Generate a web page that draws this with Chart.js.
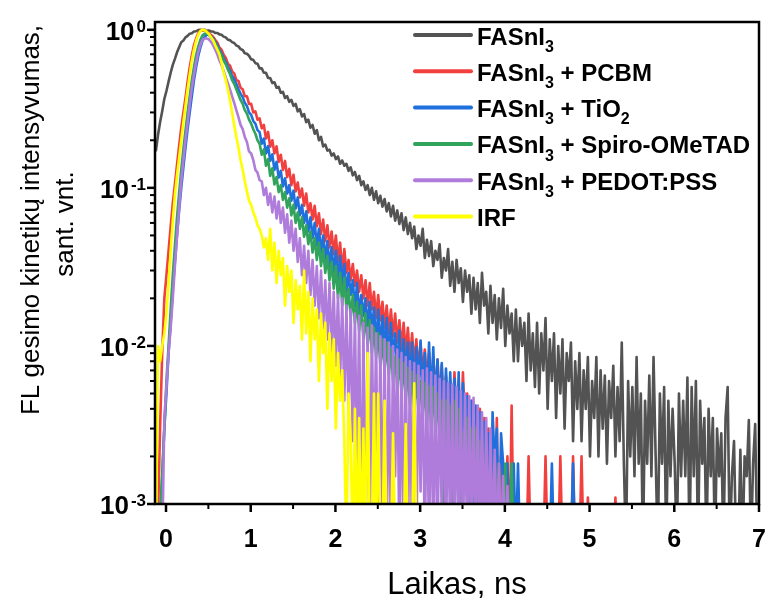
<!DOCTYPE html>
<html>
<head>
<meta charset="utf-8">
<script src="https://cdn.jsdelivr.net/npm/chart.js@4.4.0/dist/chart.umd.min.js"></script>
<style>
  body { margin: 0; background: #fff; }
  #wrap { width: 766px; height: 603px; position: relative; }
</style>
</head>
<body>
<div id="wrap"><canvas id="myChart"></canvas></div>
<script>
// time channels: t = T0 + i * DT (ns)
const T0 = -0.12;
const DT = 0.025;

const seriesNames = ['FASnI_3', 'FASnI_3 + PCBM', 'FASnI_3 + TiO_2', 'FASnI_3 + Spiro-OMeTAD', 'FASnI_3 + PEDOT:PSS', 'IRF'];
const seriesColors = ['#535353', '#f2403f', '#1f6fdd', '#31a35c', '#b07cdb', '#ffff00'];

const xTicks = [0, 1, 2, 3, 4, 5, 6, 7];
const yExponents = [0, -1, -2, -3];

// normalised counts; 0.0005 = empty channel (below the 1e-3 floor)
const fasni = [
  0.17, 0.215, 0.26, 0.305, 0.365, 0.41, 0.47, 0.535, 0.6, 0.655,
  0.72, 0.775, 0.835, 0.855, 0.895, 0.915, 0.945, 0.95, 0.975, 0.98,
  0.995, 1.0, 0.99, 1.0, 0.985, 0.99, 0.975, 0.975, 0.955, 0.955,
  0.935, 0.93, 0.905, 0.895, 0.865, 0.86, 0.835, 0.825, 0.795, 0.785,
  0.755, 0.745, 0.71, 0.705, 0.685, 0.65, 0.645, 0.615, 0.61, 0.57,
  0.57, 0.535, 0.535, 0.495, 0.495, 0.46, 0.465, 0.43, 0.435, 0.4,
  0.405, 0.37, 0.38, 0.35, 0.36, 0.33, 0.34, 0.305, 0.315, 0.283,
  0.293, 0.26, 0.27, 0.24, 0.25, 0.22, 0.232, 0.2, 0.21, 0.183,
  0.188, 0.172, 0.174, 0.16, 0.165, 0.152, 0.158, 0.142, 0.149, 0.138,
  0.142, 0.128, 0.135, 0.12, 0.126, 0.112, 0.119, 0.104, 0.11, 0.097,
  0.104, 0.09, 0.1, 0.084, 0.095, 0.08, 0.089, 0.076, 0.085, 0.071,
  0.08, 0.066, 0.077, 0.062, 0.072, 0.059, 0.069, 0.054, 0.065, 0.051,
  0.06, 0.048, 0.057, 0.041, 0.05, 0.043, 0.055, 0.036, 0.047, 0.037,
  0.046, 0.032, 0.04, 0.035, 0.044, 0.027, 0.036, 0.03, 0.041, 0.024,
  0.034, 0.022, 0.035, 0.025, 0.031, 0.019, 0.03, 0.022, 0.028, 0.016,
  0.027, 0.017, 0.025, 0.014, 0.029, 0.018, 0.022, 0.012, 0.024, 0.014,
  0.021, 0.011, 0.02, 0.013, 0.023, 0.01, 0.018, 0.012, 0.016, 0.008,
  0.017, 0.008, 0.015, 0.01, 0.014, 0.006, 0.016, 0.007, 0.012, 0.0055,
  0.014, 0.005, 0.012, 0.007, 0.015, 0.004, 0.011, 0.006, 0.012, 0.0035,
  0.01, 0.005, 0.011, 0.003, 0.009, 0.006, 0.0105, 0.0025, 0.008, 0.004,
  0.009, 0.0025, 0.007, 0.004, 0.0085, 0.002, 0.006, 0.0035, 0.0085, 0.002,
  0.007, 0.003, 0.0065, 0.0018, 0.006, 0.0035, 0.0075, 0.002, 0.0055, 0.0025,
  0.0105, 0.0018, 0.0005, 0.006, 0.002, 0.0055, 0.0015, 0.0085, 0.0018, 0.005,
  0.0005, 0.0045, 0.0018, 0.0065, 0.0015, 0.0085, 0.002, 0.0005, 0.005, 0.0018,
  0.0055, 0.0005, 0.0045, 0.0015, 0.004, 0.0018, 0.0005, 0.005, 0.0015, 0.0045,
  0.0015, 0.0063, 0.0005, 0.0055, 0.0015, 0.006, 0.0005, 0.0045, 0.0018, 0.0035,
  0.0005, 0.004, 0.0015, 0.0035, 0.0005, 0.003, 0.0015, 0.0028, 0.0005, 0.0035,
  0.0055, 0.0005, 0.0015, 0.0025, 0.0005, 0.0005, 0.0022, 0.0005, 0.002, 0.0015,
  0.0034, 0.0005, 0.0018, 0.0032, 0.0005
];

const pcbm = [
  0.0005, 0.0008, 0.003, 0.009, 0.02, 0.028, 0.04, 0.057, 0.08, 0.105,
  0.14, 0.185, 0.24, 0.3, 0.37, 0.47, 0.58, 0.69, 0.8, 0.88,
  0.95, 0.985, 1.0, 0.99, 0.98, 0.95, 0.93, 0.905, 0.865, 0.83,
  0.775, 0.75, 0.695, 0.665, 0.61, 0.595, 0.545, 0.53, 0.48, 0.475,
  0.43, 0.42, 0.38, 0.38, 0.34, 0.34, 0.3, 0.305, 0.27, 0.275,
  0.238, 0.25, 0.205, 0.226, 0.182, 0.2, 0.165, 0.183, 0.146, 0.162,
  0.13, 0.148, 0.117, 0.132, 0.104, 0.121, 0.095, 0.108, 0.087, 0.099,
  0.077, 0.092, 0.07, 0.08, 0.063, 0.077, 0.057, 0.069, 0.051, 0.063,
  0.046, 0.058, 0.042, 0.053, 0.038, 0.05, 0.034, 0.045, 0.03, 0.041,
  0.029, 0.035, 0.026, 0.033, 0.024, 0.03, 0.022, 0.028, 0.02, 0.026,
  0.018, 0.025, 0.017, 0.022, 0.015, 0.021, 0.0145, 0.019, 0.013, 0.018,
  0.012, 0.017, 0.0115, 0.016, 0.0105, 0.0145, 0.0095, 0.014, 0.009, 0.013,
  0.008, 0.012, 0.0075, 0.011, 0.007, 0.0105, 0.0065, 0.0095, 0.006, 0.009,
  0.0055, 0.0085, 0.005, 0.0082, 0.0045, 0.0075, 0.004, 0.0065, 0.0035, 0.006,
  0.003, 0.0068, 0.0035, 0.0055, 0.0025, 0.0068, 0.003, 0.005, 0.002, 0.0045,
  0.0025, 0.0036, 0.0005, 0.004, 0.002, 0.0035, 0.0005, 0.003, 0.002, 0.0029,
  0.0005, 0.0035, 0.0005, 0.002, 0.0005, 0.0005, 0.002, 0.0005, 0.0042, 0.0005,
  0.0005, 0.0005, 0.0005, 0.0005, 0.0005, 0.0005, 0.002, 0.0005, 0.0005, 0.0005,
  0.0005, 0.0005, 0.0005, 0.0005, 0.002, 0.0005, 0.0005, 0.0005, 0.0005, 0.0005,
  0.0005, 0.002, 0.0005, 0.0005, 0.0005, 0.0005, 0.0005, 0.002, 0.0005, 0.0005,
  0.0005, 0.002, 0.0005, 0.0005, 0.0011, 0.0005, 0.0005, 0.0005, 0.0005, 0.0005,
  0.0005, 0.0005, 0.0005, 0.0005, 0.0005, 0.0005, 0.0005, 0.0011, 0.0005
];

const tio2 = [
  0.0005, 0.0005, 0.0008, 0.0015, 0.003, 0.005, 0.009, 0.014, 0.023, 0.034,
  0.05, 0.072, 0.1, 0.135, 0.18, 0.235, 0.3, 0.38, 0.48, 0.58,
  0.68, 0.77, 0.85, 0.9, 0.93, 0.93, 0.91, 0.88, 0.84, 0.8,
  0.75, 0.71, 0.66, 0.625, 0.585, 0.55, 0.51, 0.485, 0.455, 0.42,
  0.395, 0.375, 0.345, 0.33, 0.3, 0.29, 0.265, 0.255, 0.232, 0.225,
  0.19, 0.205, 0.165, 0.184, 0.148, 0.163, 0.13, 0.146, 0.116, 0.128,
  0.102, 0.115, 0.092, 0.104, 0.083, 0.096, 0.074, 0.087, 0.067, 0.078,
  0.06, 0.071, 0.053, 0.065, 0.048, 0.06, 0.043, 0.055, 0.039, 0.05,
  0.035, 0.046, 0.032, 0.042, 0.029, 0.04, 0.026, 0.037, 0.024, 0.033,
  0.022, 0.029, 0.021, 0.026, 0.017, 0.025, 0.016, 0.021, 0.0155, 0.02,
  0.013, 0.019, 0.0125, 0.0175, 0.01, 0.017, 0.0095, 0.0155, 0.009, 0.015,
  0.008, 0.014, 0.0085, 0.012, 0.007, 0.0125, 0.006, 0.011, 0.0065, 0.0105,
  0.0055, 0.0105, 0.005, 0.0098, 0.0052, 0.0108, 0.0045, 0.009, 0.004, 0.0105,
  0.0042, 0.0098, 0.0038, 0.0082, 0.0035, 0.0078, 0.0028, 0.0072, 0.003, 0.0068,
  0.0028, 0.0062, 0.0025, 0.0068, 0.002, 0.0058, 0.0022, 0.0048, 0.0018, 0.0045,
  0.0005, 0.0042, 0.0018, 0.0038, 0.0005, 0.0033, 0.0018, 0.0028, 0.0005, 0.0038,
  0.0018, 0.003, 0.0005, 0.0028, 0.0018, 0.0005, 0.0018, 0.0005, 0.0005, 0.0018,
  0.0005, 0.0018, 0.0005, 0.0005, 0.0005, 0.0005, 0.0005, 0.0005, 0.0005, 0.0005,
  0.0005, 0.0005, 0.0005, 0.0005, 0.0005, 0.0005, 0.0005, 0.0018, 0.0005, 0.0005,
  0.0005, 0.0005, 0.0005, 0.0005, 0.0005, 0.0005, 0.0005, 0.0018, 0.0005, 0.0005
];

const spiro = [
  0.0005, 0.0005, 0.0008, 0.0015, 0.003, 0.006, 0.01, 0.017, 0.028, 0.043,
  0.065, 0.093, 0.13, 0.175, 0.23, 0.3, 0.38, 0.48, 0.58, 0.69,
  0.78, 0.86, 0.92, 0.945, 0.95, 0.93, 0.9, 0.865, 0.82, 0.78,
  0.73, 0.69, 0.64, 0.605, 0.56, 0.525, 0.48, 0.455, 0.42, 0.39,
  0.36, 0.34, 0.31, 0.295, 0.27, 0.255, 0.235, 0.22, 0.2, 0.19,
  0.162, 0.175, 0.138, 0.152, 0.119, 0.133, 0.105, 0.117, 0.094, 0.104,
  0.084, 0.094, 0.075, 0.086, 0.067, 0.078, 0.06, 0.07, 0.055, 0.065,
  0.049, 0.058, 0.044, 0.053, 0.039, 0.048, 0.035, 0.045, 0.032, 0.041,
  0.029, 0.037, 0.026, 0.034, 0.023, 0.032, 0.02, 0.029, 0.018, 0.027,
  0.017, 0.023, 0.015, 0.021, 0.014, 0.019, 0.0125, 0.018, 0.011, 0.016,
  0.01, 0.0145, 0.009, 0.013, 0.0085, 0.012, 0.0075, 0.011, 0.007, 0.0105,
  0.0065, 0.0095, 0.006, 0.0085, 0.0055, 0.0082, 0.005, 0.0078, 0.0045, 0.0072,
  0.0042, 0.0068, 0.004, 0.0065, 0.0038, 0.006, 0.0035, 0.0058, 0.0032, 0.0055,
  0.003, 0.0055, 0.0028, 0.005, 0.0025, 0.0045, 0.0005, 0.0045, 0.002, 0.0042,
  0.0005, 0.0045, 0.002, 0.004, 0.0005, 0.0028, 0.0018, 0.0035, 0.0005, 0.003,
  0.002, 0.003, 0.0005, 0.0025, 0.0018, 0.0005, 0.0025, 0.0005, 0.002, 0.0005,
  0.002, 0.0005, 0.0018, 0.0005, 0.0005, 0.0018, 0.0005, 0.0005, 0.0018, 0.0005
];

const pedot = [
  0.0005, 0.0005, 0.0005, 0.0005, 0.0035, 0.0055, 0.009, 0.013, 0.02, 0.032,
  0.05, 0.075, 0.11, 0.15, 0.2, 0.26, 0.34, 0.43, 0.52, 0.62,
  0.72, 0.8, 0.86, 0.88, 0.88, 0.87, 0.84, 0.8, 0.75, 0.7,
  0.64, 0.6, 0.55, 0.5, 0.46, 0.42, 0.38, 0.345, 0.31, 0.28,
  0.25, 0.235, 0.21, 0.195, 0.17, 0.165, 0.15, 0.13, 0.125, 0.112,
  0.11, 0.09, 0.1, 0.078, 0.092, 0.07, 0.088, 0.064, 0.082, 0.06,
  0.075, 0.052, 0.068, 0.045, 0.062, 0.04, 0.055, 0.034, 0.048, 0.028,
  0.043, 0.025, 0.04, 0.021, 0.035, 0.018, 0.032, 0.015, 0.03, 0.013,
  0.026, 0.011, 0.025, 0.009, 0.022, 0.0075, 0.021, 0.006, 0.02, 0.0045,
  0.018, 0.0035, 0.017, 0.0025, 0.016, 0.0015, 0.0155, 0.0005, 0.014, 0.0005,
  0.013, 0.0005, 0.0135, 0.0012, 0.012, 0.0005, 0.0115, 0.0005, 0.011, 0.0005,
  0.0105, 0.0005, 0.01, 0.0015, 0.0095, 0.0005, 0.009, 0.0005, 0.0085, 0.0005,
  0.008, 0.0005, 0.0078, 0.0005, 0.0075, 0.0012, 0.007, 0.0005, 0.0072, 0.0005,
  0.0068, 0.0005, 0.0065, 0.0005, 0.0062, 0.0008, 0.006, 0.0005, 0.0058, 0.0005,
  0.0057, 0.0005, 0.0055, 0.0005, 0.0052, 0.0005, 0.005, 0.0005, 0.0048, 0.0005,
  0.0047, 0.0005, 0.0042, 0.0005, 0.0038, 0.0005, 0.0035, 0.0005, 0.003, 0.0005,
  0.0022, 0.0005, 0.0018, 0.0005, 0.0015, 0.0005, 0.0013, 0.0005, 0.0005
];

const irf = [
  0.0005, 0.01, 0.008, 0.01, 0.012, 0.016, 0.025, 0.04, 0.062, 0.09,
  0.12, 0.155, 0.2, 0.26, 0.33, 0.42, 0.52, 0.64, 0.75, 0.85,
  0.93, 0.98, 1.0, 0.995, 0.97, 0.94, 0.9, 0.86, 0.8, 0.75,
  0.7, 0.62, 0.54, 0.48, 0.42, 0.36, 0.3, 0.25, 0.21, 0.18,
  0.15, 0.13, 0.11, 0.095, 0.083, 0.078, 0.07, 0.065, 0.058, 0.055,
  0.05, 0.042, 0.048, 0.035, 0.055, 0.03, 0.045, 0.025, 0.04, 0.028,
  0.036, 0.018, 0.032, 0.022, 0.03, 0.014, 0.026, 0.017, 0.024, 0.011,
  0.03, 0.012, 0.022, 0.008, 0.02, 0.011, 0.017, 0.006, 0.016, 0.009,
  0.014, 0.004, 0.012, 0.006, 0.011, 0.003, 0.009, 0.0045, 0.007, 0.0025,
  0.0005, 0.005, 0.0025, 0.0005, 0.004, 0.0005, 0.0035, 0.0005, 0.003, 0.0005,
  0.009, 0.0005, 0.0005, 0.005, 0.0005, 0.005, 0.0005, 0.0005, 0.0045, 0.0005,
  0.0005, 0.0005, 0.0028, 0.0005, 0.0005, 0.0005, 0.0005, 0.0005, 0.0032, 0.0005,
  0.0005, 0.0005, 0.0058, 0.0005, 0.0005, 0.0005
];

const allSeries = [fasni, pcbm, tio2, spiro, pedot, irf];
const FONT = '"Liberation Sans", Arial, sans-serif';

function toPoints(vals) {
  return vals.map((v, i) => ({ x: +(T0 + i * DT).toFixed(3), y: v }));
}

// text with _3 style subscripts
function drawRich(ctx, str, x, y, size) {
  const parts = str.split(/_(\d)/);
  parts.forEach((p, k) => {
    if (k % 2) {
      ctx.font = `bold ${Math.round(size * 0.68)}px ${FONT}`;
      ctx.fillText(p, x, y + size * 0.3);
    } else {
      ctx.font = `bold ${size}px ${FONT}`;
      ctx.fillText(p, x, y);
    }
    x += ctx.measureText(p).width;
  });
}

const decor = {
  id: 'decor',
  afterDatasetsDraw(chart) {
    const { ctx, chartArea: a, scales } = chart;
    const xs = scales.x, ys = scales.y;
    ctx.save();
    ctx.strokeStyle = '#000';
    ctx.fillStyle = '#000';

    // ticks
    ctx.lineCap = 'butt';
    for (let v = 0; v <= 7; v += 0.5) {
      const px = xs.getPixelForValue(v);
      const major = Number.isInteger(v);
      ctx.lineWidth = major ? 2.5 : 2;
      ctx.beginPath();
      ctx.moveTo(px, a.bottom);
      ctx.lineTo(px, a.bottom + (major ? 8 : 5));
      ctx.stroke();
    }
    for (let e = -3; e <= 0; e++) {
      for (let m = 1; m <= 9; m++) {
        const v = m * Math.pow(10, e);
        if (v > ys.max) break;
        const py = ys.getPixelForValue(v);
        ctx.lineWidth = m === 1 ? 2.5 : 2;
        ctx.beginPath();
        ctx.moveTo(a.left, py);
        ctx.lineTo(a.left - (m === 1 ? 8 : 5), py);
        ctx.stroke();
        if (e === 0) break;
      }
    }

    // frame
    ctx.lineWidth = 2.5;
    ctx.strokeRect(a.left, a.top, a.right - a.left, a.bottom - a.top);

    // x tick labels
    ctx.font = `bold 25px ${FONT}`;
    ctx.textAlign = 'center';
    ctx.textBaseline = 'alphabetic';
    xTicks.forEach(v => ctx.fillText(String(v), xs.getPixelForValue(v), a.bottom + 43));

    // y tick labels 10^e
    ctx.textAlign = 'left';
    yExponents.forEach(e => {
      const py = ys.getPixelForValue(Math.pow(10, e));
      ctx.font = `bold 26px ${FONT}`;
      const w1 = ctx.measureText('10').width;
      ctx.font = `bold 17px ${FONT}`;
      const sup = String(e);
      const w2 = ctx.measureText(sup).width;
      const x0 = 146 - w1 - w2 - 2;
      ctx.font = `bold 26px ${FONT}`;
      ctx.fillText('10', x0, py + 10);
      ctx.font = `bold 17px ${FONT}`;
      ctx.fillText(sup, x0 + w1 + 2, py + 2);
    });

    // axis titles
    ctx.font = `31px ${FONT}`;
    ctx.textAlign = 'center';
    ctx.fillText('Laikas, ns', (a.left + a.right) / 2, 594);
    ctx.save();
    ctx.rotate(-Math.PI / 2);
    ctx.font = `26px ${FONT}`;
    ctx.textBaseline = 'middle';
    ctx.fillText('FL gesimo kinetikų intensyvumas,', -220, 32);
    ctx.fillText('sant. vnt.', -224, 66);
    ctx.restore();

    // legend
    ctx.textAlign = 'left';
    ctx.textBaseline = 'alphabetic';
    seriesNames.forEach((name, k) => {
      const ry = 35 + k * 36.3;
      ctx.strokeStyle = seriesColors[k];
      ctx.lineWidth = 4;
      ctx.lineCap = 'round';
      ctx.beginPath();
      ctx.moveTo(415, ry);
      ctx.lineTo(471, ry);
      ctx.stroke();
      ctx.fillStyle = '#000';
      drawRich(ctx, name, 477, ry + 9.5, 24);
    });
    ctx.restore();
  }
};

const ctx = document.getElementById('myChart').getContext('2d');

const datasets = allSeries.map((vals, k) => ({
  label: seriesNames[k],
  data: toPoints(vals),
  borderColor: seriesColors[k],
  backgroundColor: seriesColors[k],
  borderWidth: 2.6,
  borderJoinStyle: 'round',
  pointRadius: 0,
  fill: false,
  tension: 0,
  order: allSeries.length - 1 - k
}));

const myChart = new Chart(ctx, {
  type: 'line',
  data: { datasets: datasets },
  options: {
    responsive: true,
    maintainAspectRatio: false,
    animation: false,
    events: [],
    layout: { padding: { top: 22, right: 7, left: 0, bottom: 0 } },
    plugins: { legend: { display: false }, tooltip: { enabled: false } },
    scales: {
      x: {
        type: 'linear',
        min: -0.13,
        max: 7,
        ticks: { display: false },
        grid: { display: false },
        border: { display: false },
        afterFit: s => { s.height = 99; }
      },
      y: {
        type: 'logarithmic',
        min: 0.001,
        max: 1.12,
        ticks: { display: false },
        grid: { display: false },
        border: { display: false },
        afterFit: s => { s.width = 155; }
      }
    }
  },
  plugins: [decor]
});
</script>
</body>
</html>
